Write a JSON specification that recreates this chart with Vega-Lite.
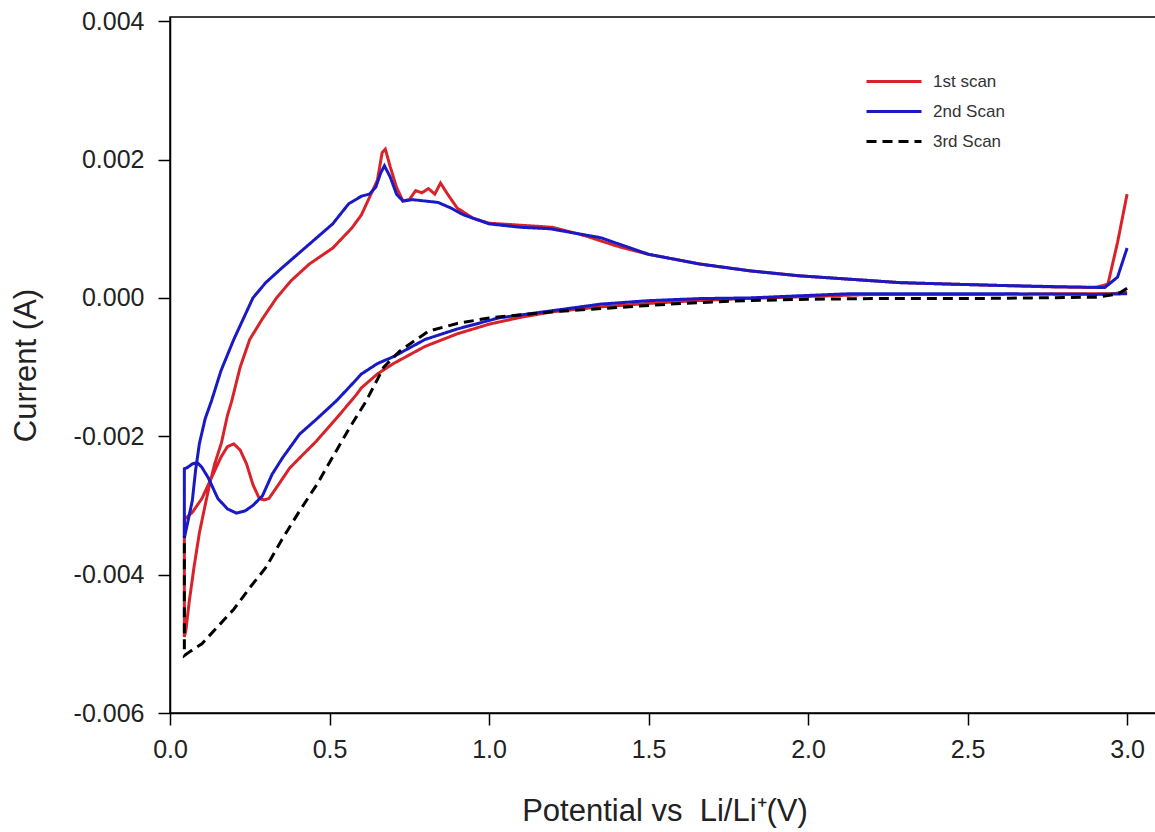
{
  "$schema": "https://vega.github.io/schema/vega-lite/v6.json",
  "width": 989,
  "height": 696,
  "autosize": {"type": "none"},
  "padding": {"left": 170, "top": 17, "right": 0, "bottom": 119},
  "background": "white",
  "config": {"font": "Liberation Sans", "view": {"stroke": "black", "strokeWidth": 1.5}},
  "data": {"values": [
    {"s":"1st scan","v":3.0,"c":0.00008},{"s":"1st scan","v":2.95,"c":0.00006},{"s":"1st scan","v":2.8,"c":0.00006},{"s":"1st scan","v":2.6,"c":0.00005},{"s":"1st scan","v":2.4,"c":0.00005},{"s":"1st scan","v":2.2,"c":0.00005},{"s":"1st scan","v":2.0,"c":0.00002},{"s":"1st scan","v":1.8,"c":-0.00001},{"s":"1st scan","v":1.65,"c":-0.00004},{"s":"1st scan","v":1.5,"c":-0.00008},{"s":"1st scan","v":1.35,"c":-0.00013},{"s":"1st scan","v":1.2,"c":-0.0002},{"s":"1st scan","v":1.1,"c":-0.00028},{"s":"1st scan","v":1.0,"c":-0.00038},{"s":"1st scan","v":0.9,"c":-0.00052},{"s":"1st scan","v":0.8,"c":-0.0007},{"s":"1st scan","v":0.7,"c":-0.00095},{"s":"1st scan","v":0.65,"c":-0.0011},{"s":"1st scan","v":0.6,"c":-0.0013},{"s":"1st scan","v":0.584,"c":-0.0014},{"s":"1st scan","v":0.52,"c":-0.00175},{"s":"1st scan","v":0.459,"c":-0.00207},{"s":"1st scan","v":0.42,"c":-0.00225},{"s":"1st scan","v":0.375,"c":-0.00246},{"s":"1st scan","v":0.34,"c":-0.0027},{"s":"1st scan","v":0.31,"c":-0.0029},{"s":"1st scan","v":0.295,"c":-0.00292},{"s":"1st scan","v":0.28,"c":-0.0029},{"s":"1st scan","v":0.26,"c":-0.0027},{"s":"1st scan","v":0.24,"c":-0.0024},{"s":"1st scan","v":0.22,"c":-0.0022},{"s":"1st scan","v":0.2,"c":-0.00211},{"s":"1st scan","v":0.18,"c":-0.00215},{"s":"1st scan","v":0.16,"c":-0.0023},{"s":"1st scan","v":0.13,"c":-0.0026},{"s":"1st scan","v":0.1,"c":-0.0029},{"s":"1st scan","v":0.07,"c":-0.0031},{"s":"1st scan","v":0.045,"c":-0.0032},{"s":"1st scan","v":0.045,"c":-0.0049},{"s":"1st scan","v":0.05,"c":-0.0048},{"s":"1st scan","v":0.06,"c":-0.0044},{"s":"1st scan","v":0.075,"c":-0.0039},{"s":"1st scan","v":0.092,"c":-0.0034},{"s":"1st scan","v":0.11,"c":-0.003},{"s":"1st scan","v":0.124,"c":-0.0027},{"s":"1st scan","v":0.14,"c":-0.0024},{"s":"1st scan","v":0.161,"c":-0.0021},{"s":"1st scan","v":0.18,"c":-0.0017},{"s":"1st scan","v":0.193,"c":-0.0015},{"s":"1st scan","v":0.22,"c":-0.001},{"s":"1st scan","v":0.25,"c":-0.0006},{"s":"1st scan","v":0.29,"c":-0.0003},{"s":"1st scan","v":0.334,"c":0.0},{"s":"1st scan","v":0.38,"c":0.00025},{"s":"1st scan","v":0.437,"c":0.00049},{"s":"1st scan","v":0.51,"c":0.00072},{"s":"1st scan","v":0.57,"c":0.00101},{"s":"1st scan","v":0.6,"c":0.0012},{"s":"1st scan","v":0.625,"c":0.00145},{"s":"1st scan","v":0.65,"c":0.0017},{"s":"1st scan","v":0.665,"c":0.0021},{"s":"1st scan","v":0.675,"c":0.00215},{"s":"1st scan","v":0.69,"c":0.0019},{"s":"1st scan","v":0.71,"c":0.0016},{"s":"1st scan","v":0.73,"c":0.0014},{"s":"1st scan","v":0.75,"c":0.00142},{"s":"1st scan","v":0.77,"c":0.00155},{"s":"1st scan","v":0.79,"c":0.00152},{"s":"1st scan","v":0.81,"c":0.00158},{"s":"1st scan","v":0.83,"c":0.0015},{"s":"1st scan","v":0.848,"c":0.00166},{"s":"1st scan","v":0.87,"c":0.0015},{"s":"1st scan","v":0.9,"c":0.0013},{"s":"1st scan","v":0.95,"c":0.00115},{"s":"1st scan","v":1.0,"c":0.00108},{"s":"1st scan","v":1.1,"c":0.00105},{"s":"1st scan","v":1.2,"c":0.00102},{"s":"1st scan","v":1.3,"c":0.0009},{"s":"1st scan","v":1.4,"c":0.00075},{"s":"1st scan","v":1.5,"c":0.00063},{"s":"1st scan","v":1.66,"c":0.00049},{"s":"1st scan","v":1.82,"c":0.00039},{"s":"1st scan","v":1.97,"c":0.00032},{"s":"1st scan","v":2.13,"c":0.00027},{"s":"1st scan","v":2.29,"c":0.00022},{"s":"1st scan","v":2.44,"c":0.0002},{"s":"1st scan","v":2.6,"c":0.00018},{"s":"1st scan","v":2.75,"c":0.00016},{"s":"1st scan","v":2.9,"c":0.00015},{"s":"1st scan","v":2.94,"c":0.0002},{"s":"1st scan","v":2.97,"c":0.0008},{"s":"1st scan","v":3.0,"c":0.0015},

    {"s":"2nd Scan","v":3.0,"c":0.00006},{"s":"2nd Scan","v":2.9,"c":0.00005},{"s":"2nd Scan","v":2.6,"c":0.00006},{"s":"2nd Scan","v":2.44,"c":0.00006},{"s":"2nd Scan","v":2.13,"c":0.00006},{"s":"2nd Scan","v":1.97,"c":0.00003},{"s":"2nd Scan","v":1.82,"c":0.0},{"s":"2nd Scan","v":1.66,"c":-0.00001},{"s":"2nd Scan","v":1.5,"c":-0.00004},{"s":"2nd Scan","v":1.35,"c":-0.00009},{"s":"2nd Scan","v":1.19,"c":-0.00019},{"s":"2nd Scan","v":1.03,"c":-0.00029},{"s":"2nd Scan","v":0.9,"c":-0.00045},{"s":"2nd Scan","v":0.8,"c":-0.0006},{"s":"2nd Scan","v":0.7,"c":-0.00085},{"s":"2nd Scan","v":0.65,"c":-0.00095},{"s":"2nd Scan","v":0.6,"c":-0.0011},{"s":"2nd Scan","v":0.56,"c":-0.0013},{"s":"2nd Scan","v":0.521,"c":-0.00149},{"s":"2nd Scan","v":0.46,"c":-0.00175},{"s":"2nd Scan","v":0.406,"c":-0.00197},{"s":"2nd Scan","v":0.353,"c":-0.00231},{"s":"2nd Scan","v":0.32,"c":-0.00255},{"s":"2nd Scan","v":0.29,"c":-0.00286},{"s":"2nd Scan","v":0.26,"c":-0.003},{"s":"2nd Scan","v":0.235,"c":-0.00308},{"s":"2nd Scan","v":0.208,"c":-0.00311},{"s":"2nd Scan","v":0.18,"c":-0.00305},{"s":"2nd Scan","v":0.15,"c":-0.0029},{"s":"2nd Scan","v":0.12,"c":-0.0026},{"s":"2nd Scan","v":0.1,"c":-0.00245},{"s":"2nd Scan","v":0.086,"c":-0.00238},{"s":"2nd Scan","v":0.07,"c":-0.0024},{"s":"2nd Scan","v":0.055,"c":-0.00245},{"s":"2nd Scan","v":0.045,"c":-0.00247},{"s":"2nd Scan","v":0.045,"c":-0.00347},{"s":"2nd Scan","v":0.052,"c":-0.00332},{"s":"2nd Scan","v":0.07,"c":-0.00293},{"s":"2nd Scan","v":0.08,"c":-0.0025},{"s":"2nd Scan","v":0.092,"c":-0.00211},{"s":"2nd Scan","v":0.11,"c":-0.00175},{"s":"2nd Scan","v":0.13,"c":-0.00149},{"s":"2nd Scan","v":0.16,"c":-0.00105},{"s":"2nd Scan","v":0.2,"c":-0.0006},{"s":"2nd Scan","v":0.23,"c":-0.0003},{"s":"2nd Scan","v":0.26,"c":0.0},{"s":"2nd Scan","v":0.3,"c":0.00022},{"s":"2nd Scan","v":0.35,"c":0.00043},{"s":"2nd Scan","v":0.43,"c":0.00075},{"s":"2nd Scan","v":0.51,"c":0.00107},{"s":"2nd Scan","v":0.56,"c":0.00136},{"s":"2nd Scan","v":0.6,"c":0.00147},{"s":"2nd Scan","v":0.625,"c":0.0015},{"s":"2nd Scan","v":0.645,"c":0.0016},{"s":"2nd Scan","v":0.66,"c":0.0018},{"s":"2nd Scan","v":0.672,"c":0.00191},{"s":"2nd Scan","v":0.69,"c":0.00175},{"s":"2nd Scan","v":0.71,"c":0.0015},{"s":"2nd Scan","v":0.73,"c":0.0014},{"s":"2nd Scan","v":0.76,"c":0.00142},{"s":"2nd Scan","v":0.8,"c":0.0014},{"s":"2nd Scan","v":0.84,"c":0.00138},{"s":"2nd Scan","v":0.88,"c":0.0013},{"s":"2nd Scan","v":0.92,"c":0.0012},{"s":"2nd Scan","v":1.0,"c":0.00107},{"s":"2nd Scan","v":1.1,"c":0.00102},{"s":"2nd Scan","v":1.19,"c":0.001},{"s":"2nd Scan","v":1.35,"c":0.00087},{"s":"2nd Scan","v":1.5,"c":0.00063},{"s":"2nd Scan","v":1.66,"c":0.00049},{"s":"2nd Scan","v":1.82,"c":0.00039},{"s":"2nd Scan","v":1.97,"c":0.00032},{"s":"2nd Scan","v":2.13,"c":0.00027},{"s":"2nd Scan","v":2.29,"c":0.00022},{"s":"2nd Scan","v":2.44,"c":0.0002},{"s":"2nd Scan","v":2.6,"c":0.00018},{"s":"2nd Scan","v":2.8,"c":0.00016},{"s":"2nd Scan","v":2.93,"c":0.00015},{"s":"2nd Scan","v":2.97,"c":0.0003},{"s":"2nd Scan","v":3.0,"c":0.00072},

    {"s":"3rd Scan","v":3.0,"c":0.00014},{"s":"3rd Scan","v":2.98,"c":0.00008},{"s":"3rd Scan","v":2.95,"c":0.00004},{"s":"3rd Scan","v":2.9,"c":0.00001},{"s":"3rd Scan","v":2.7,"c":0.0},{"s":"3rd Scan","v":2.5,"c":-0.00001},{"s":"3rd Scan","v":2.2,"c":-0.00001},{"s":"3rd Scan","v":2.0,"c":-0.00002},{"s":"3rd Scan","v":1.8,"c":-0.00004},{"s":"3rd Scan","v":1.6,"c":-0.00008},{"s":"3rd Scan","v":1.4,"c":-0.00014},{"s":"3rd Scan","v":1.2,"c":-0.0002},{"s":"3rd Scan","v":1.0,"c":-0.00029},{"s":"3rd Scan","v":0.9,"c":-0.00037},{"s":"3rd Scan","v":0.81,"c":-0.00048},{"s":"3rd Scan","v":0.72,"c":-0.00077},{"s":"3rd Scan","v":0.67,"c":-0.001},{"s":"3rd Scan","v":0.615,"c":-0.00149},{"s":"3rd Scan","v":0.56,"c":-0.0019},{"s":"3rd Scan","v":0.51,"c":-0.0023},{"s":"3rd Scan","v":0.46,"c":-0.0027},{"s":"3rd Scan","v":0.406,"c":-0.00308},{"s":"3rd Scan","v":0.35,"c":-0.0035},{"s":"3rd Scan","v":0.3,"c":-0.0039},{"s":"3rd Scan","v":0.25,"c":-0.00419},{"s":"3rd Scan","v":0.2,"c":-0.0045},{"s":"3rd Scan","v":0.15,"c":-0.00475},{"s":"3rd Scan","v":0.1,"c":-0.005},{"s":"3rd Scan","v":0.06,"c":-0.00512},{"s":"3rd Scan","v":0.045,"c":-0.00517},{"s":"3rd Scan","v":0.045,"c":-0.00345}
  ]},
  "mark": {"type": "line", "strokeWidth": 3, "clip": true},
  "encoding": {
    "x": {
      "field": "v", "type": "quantitative",
      "scale": {"domain": [0, 3.1], "nice": false, "zero": false},
      "axis": {
        "values": [0, 0.5, 1, 1.5, 2, 2.5, 3], "format": ".1f",
        "title": "Potential vs\u00a0 Li/Li\u207a(V)",
        "grid": false, "domainColor": "black", "domainWidth": 1.5,
        "tickColor": "black", "tickWidth": 1.5, "tickSize": 12,
        "labelFontSize": 25, "labelColor": "#222", "labelPadding": 12, "labelFlush": false, "labelOverlap": false,
        "titleFontSize": 31, "titleFontWeight": "normal", "titleColor": "#222", "titlePadding": 34
      }
    },
    "y": {
      "field": "c", "type": "quantitative",
      "scale": {"domain": [-0.006, 0.00406], "nice": false, "zero": false},
      "axis": {
        "values": [-0.006, -0.004, -0.002, 0, 0.002, 0.004],
        "labelExpr": "replace(format(datum.value, '.3f'), '\u2212', '-')",
        "title": "Current (A)",
        "grid": false, "domainColor": "black", "domainWidth": 1.5,
        "tickColor": "black", "tickWidth": 1.5, "tickSize": 12,
        "labelFontSize": 25, "labelColor": "#222", "labelPadding": 14, "labelFlush": false, "labelOverlap": false,
        "titleFontSize": 31, "titleFontWeight": "normal", "titleColor": "#222", "titlePadding": 31
      }
    },
    "color": {
      "field": "s", "type": "nominal",
      "scale": {"domain": ["1st scan", "2nd Scan", "3rd Scan"], "range": ["#d9232a", "#1a1ac4", "#000000"]},
      "legend": {"orient": "none", "legendX": 695, "legendY": 56, "title": null, "symbolType": "stroke", "symbolSize": 3025, "symbolStrokeWidth": 3, "labelFontSize": 17, "labelColor": "#333", "labelOffset": 10, "clipHeight": 17, "rowPadding": 12, "padding": 0}
    },
    "strokeDash": {
      "field": "s", "type": "nominal",
      "scale": {"domain": ["1st scan", "2nd Scan", "3rd Scan"], "range": [[1, 0], [1, 0], [10, 6]]},
      "legend": {"orient": "none", "legendX": 695, "legendY": 56, "title": null, "symbolType": "stroke", "symbolSize": 3025, "symbolStrokeWidth": 3, "labelFontSize": 17, "labelColor": "#333", "labelOffset": 10, "clipHeight": 17, "rowPadding": 12, "padding": 0}
    },
    "order": {"value": null}
  }
}
